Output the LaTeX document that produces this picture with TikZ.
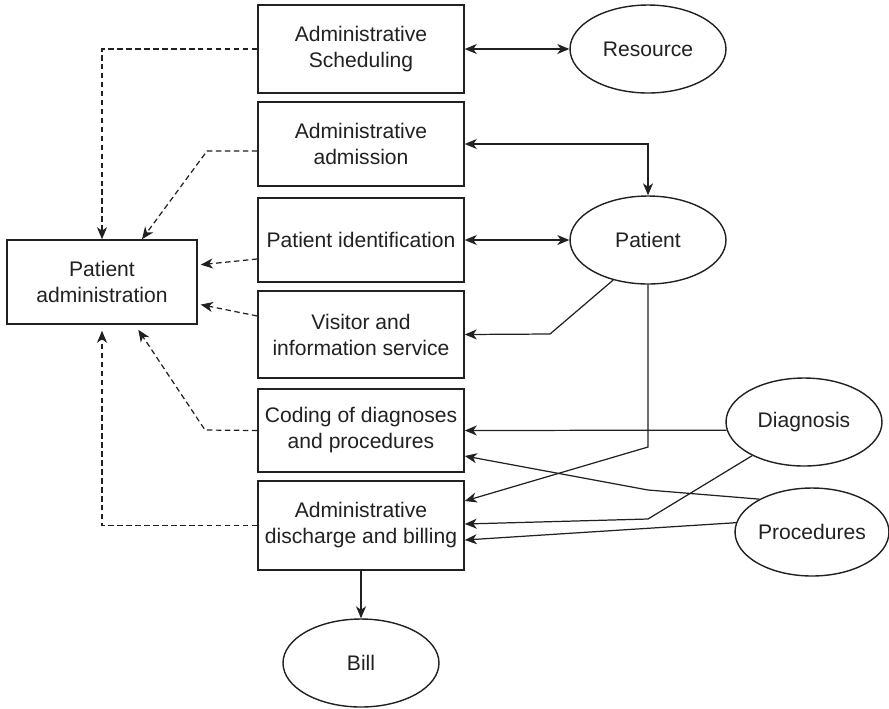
\documentclass[tikz,border=0pt]{standalone}
\usepackage{fontspec}
\setmainfont{Liberation Sans}
\usetikzlibrary{shapes.geometric,arrows.meta,calc}
\definecolor{ink}{gray}{0.13}

\begin{document}
\begin{tikzpicture}[x=0.02cm,y=-0.02cm,
  font=\fontsize{12}{14.8}\selectfont,
  every node/.style={text=ink},
  box/.style={draw=ink, line width=0.9pt, minimum width=4.12cm, align=center, inner sep=0pt},
  entity/.style={draw=ink, ellipse, line width=0.8pt, minimum width=3.12cm, minimum height=1.76cm, inner sep=0pt},
  flow/.style={draw=ink, line width=0.7pt, -{Stealth[length=0.24cm,width=0.2cm,inset=0.07cm]}},
  both/.style={draw=ink, line width=0.7pt, {Stealth[length=0.24cm,width=0.2cm,inset=0.07cm]}-{Stealth[length=0.24cm,width=0.2cm,inset=0.07cm]}},
  feed/.style={flow, dash pattern=on 3.1pt off 2pt}
]
\useasboundingbox (0,0) rectangle (889,708);

% process boxes
\node[box, minimum height=1.76cm] (sched) at (361,49) {Administrative\\Scheduling};
\node[box, minimum height=1.68cm] (adm) at (361,144) {Administrative\\admission};
\node[box, minimum height=1.68cm] (pid) at (361,240) {Patient identification};
\node[box, minimum height=1.74cm] (vis) at (361,334.5) {Visitor and\\information service};
\node[box, minimum height=1.66cm] (cod) at (361,430.5) {Coding of diagnoses\\and procedures};
\node[box, minimum height=1.78cm] (dis) at (361,525.5) {Administrative\\discharge and billing};
\node[box, minimum width=3.8cm, minimum height=1.68cm] (pa) at (102,282) {Patient\\administration};

% entities
\node[entity] (res) at (648,49) {Resource};
\node[entity] (pat) at (648,240) {Patient};
\node[entity] (diag) at (804,422) {Diagnosis};
\node[entity, minimum width=3.08cm] (proc) at (812,532) {Procedures};
\node[entity] (bill) at (361,663) {Bill};

% bend points
\coordinate (k1) at (550,334);
\coordinate (k2) at (648,447);
\coordinate (k3) at (648,490);
\coordinate (k4) at (648,519);
\coordinate (d1) at (207,151);
\coordinate (d2) at (205,430);

% data flows
\draw[both] (sched.east) -- (res.west);
\draw[both] (adm.east) -| (pat.north);
\draw[both] (pid.east) -- (pat.west);
\draw[flow] (pat.229) -- (k1) -- (vis.east);
\draw[flow] (pat.south) -- (k2) -- ([yshift=0.49cm]dis.east);
\draw[flow] (diag.186) -- (cod.east);
\draw[flow] (proc.148) -- (k3) -- ([yshift=-0.51cm]cod.east);
\draw[flow] (diag.213) -- (k4) -- ([yshift=0.03cm]dis.east);
\draw[flow] (proc.173) -- ([yshift=-0.29cm]dis.east);
\draw[flow] (dis.south) -- (bill.north);

% feeds into patient administration
\draw[feed] (sched.west) -| (pa.north);
\draw[feed] ([yshift=-0.14cm]adm.west) -- (d1) -- ([xshift=0.8cm]pa.north);
\draw[feed, shorten >=0.06cm] ([yshift=-0.38cm]pid.west) -- ([yshift=0.34cm]pa.east);
\draw[feed, shorten >=0.06cm] ([yshift=0.37cm]vis.west) -- ([yshift=-0.44cm]pa.east);
\draw[feed, shorten >=0.12cm] (cod.west) -- (d2) -- ([xshift=0.66cm]pa.south);
\draw[feed, shorten >=0.12cm] (dis.west) -| (pa.south);
\end{tikzpicture}
\end{document}
